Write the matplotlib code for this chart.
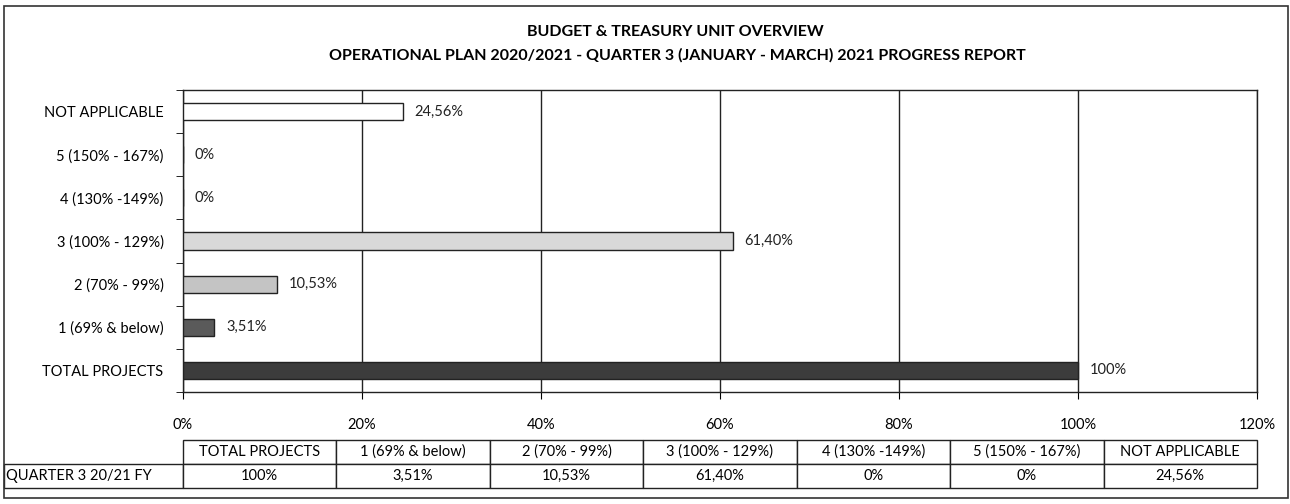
import matplotlib
from matplotlib import pyplot as plt
from matplotlib.patches import Rectangle

# data
categories = ['TOTAL PROJECTS', '1 (69% & below)', '2 (70% - 99%)', '3 (100% - 129%)',
              '4 (130% -149%)', '5 (150% - 167%)', 'NOT APPLICABLE']
values = [100, 3.51, 10.53, 61.40, 0, 0, 24.56]
value_labels = ['100%', '3,51%', '10,53%', '61,40%', '0%', '0%', '24,56%']
row_name = 'QUARTER 3 20/21 FY'
xticks = [0, 20, 40, 60, 80, 100, 120]
xtick_labels = ['0%', '20%', '40%', '60%', '80%', '100%', '120%']
bar_colors = ['#3c3c3c', '#5a5a5a', '#c4c4c4', '#d9d9d9', 'white', 'white', 'white']

matplotlib.rc('font', family=['Lato', 'DejaVu Sans'])

W, H = 1290, 504
fig = plt.figure(figsize=(W / 100, H / 100), dpi=100)

# frame around whole chart
fig.patches.append(Rectangle((4 / W, 6 / H), (W - 6) / W, (H - 12) / H,
                             transform=fig.transFigure, fill=False,
                             edgecolor='#333333', linewidth=1.2))

ax = fig.add_axes([183 / W, (H - 392) / H, (1257 - 183) / W, (392 - 90) / H])
y = list(range(len(categories)))
ax.barh(y, values, height=0.4, color=bar_colors, edgecolor='#222222', linewidth=1, zorder=3)
for yi, v, lab in zip(y, values, value_labels):
    ax.text(v + 1.3, yi, lab, va='center', ha='left', fontsize=10.5, color='#222222')

ax.set_xlim(0, 120)
ax.set_ylim(-0.5, len(categories) - 0.5)
ax.set_xticks(xticks)
ax.set_xticklabels(xtick_labels, fontsize=10.5)
ax.set_yticks(y)
ax.set_yticklabels(categories, fontsize=10.5)
ax.set_yticks([i + 0.5 for i in range(-1, len(categories))], minor=True)
ax.tick_params(axis='y', which='major', length=0, pad=14)
ax.tick_params(axis='y', which='minor', length=5, direction='out')
ax.tick_params(axis='x', length=5, direction='out', pad=14)
ax.grid(axis='x', color='#222222', linewidth=1, zorder=0)
for s in ax.spines.values():
    s.set_color('#222222')
    s.set_linewidth(1)

fig.text(675 / W, 1 - 32 / H, 'BUDGET & TREASURY UNIT OVERVIEW', ha='center', va='center',
         fontsize=11.5, fontweight='bold')
fig.text(677 / W, 1 - 55 / H,
         'OPERATIONAL PLAN 2020/2021 - QUARTER 3 (JANUARY - MARCH) 2021 PROGRESS REPORT',
         ha='center', va='center', fontsize=11.5, fontweight='bold')

# data table
tax = fig.add_axes([4 / W, (H - 488) / H, (1257 - 4) / W, (488 - 440) / H])
tax.axis('off')
col_w = (1257 - 183) / 7
widths = [179] + [col_w] * 7
tot = sum(widths)
widths = [w / tot for w in widths]
tbl = tax.table(cellText=[[row_name] + value_labels], colLabels=[''] + categories,
                colWidths=widths, cellLoc='center', bbox=[0, 0, 1, 1])
tbl.auto_set_font_size(False)
tbl.set_fontsize(10.5)
for (r, c), cell in tbl.get_celld().items():
    cell.set_edgecolor('#222222')
    cell.set_linewidth(1)
    if c == 0:
        cell.get_text().set_ha('left')
        cell.PAD = 0.01
        if r == 0:
            cell.visible_edges = ''

fig.savefig('out.png', dpi=100)
